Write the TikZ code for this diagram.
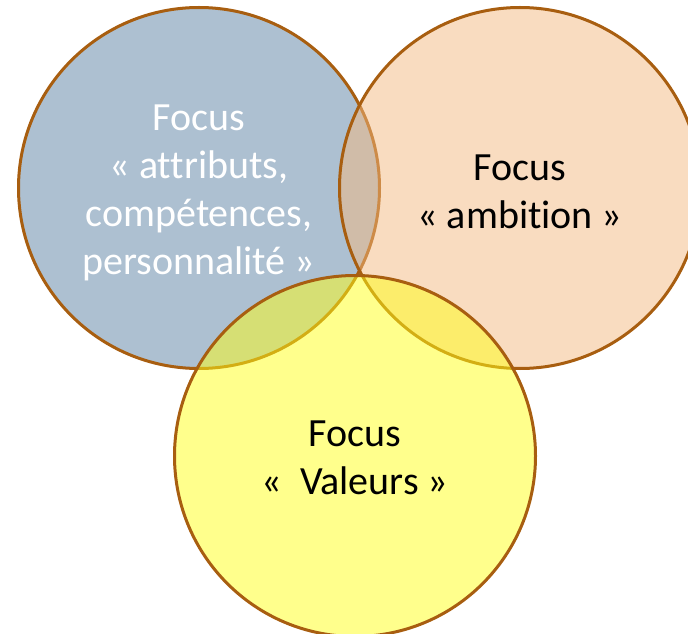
\documentclass[tikz,border=0pt]{standalone}
\usepackage{fontspec}
\setmainfont{Carlito}[Ligatures={NoCommon}]
\usepackage{tikz}

\definecolor{ringbrown}{RGB}{168,94,16}
\definecolor{attrblue}{RGB}{91,129,163}
\definecolor{ambpeach}{RGB}{243,185,129}
\definecolor{valyellow}{RGB}{255,255,25}

\begin{document}
\begin{tikzpicture}[x=1pt, y=1pt]
			\useasboundingbox (0,0) rectangle (688,633);

			\tikzset{ ring/.style = { shape=circle, draw=ringbrown, line width=3pt, minimum size=361pt, inner sep=0pt, fill opacity=0.5 } }
			\tikzset{ focustext/.style = { align=center, inner sep=0pt, font=\fontsize{40}{48}\selectfont } }

			\tikzset{ focus1/.style = { ring, fill=attrblue } }
			\tikzset{ focus2/.style = { ring, fill=ambpeach } }
			\tikzset{ focus3/.style = { ring, fill=valyellow } }

			\node [focus1] (attributs) at (199,445) {};
			\node [focustext, text=white] (attributs text) at ([yshift=-5pt]attributs.center) {Focus\\« attributs,\\compétences,\\personnalité »};

			\node [focus2] (ambition) at (520,445) {};
			\node [focustext] (ambition text) at ([yshift=-4pt]ambition.center) {Focus\\« ambition »};

			\node [focus3] (valeurs) at (355,177) {};
			\node [focustext] (valeurs text) at ([yshift=-2pt]valeurs.center) {Focus\\«\ \ Valeurs »};
		\end{tikzpicture}
\end{document}
